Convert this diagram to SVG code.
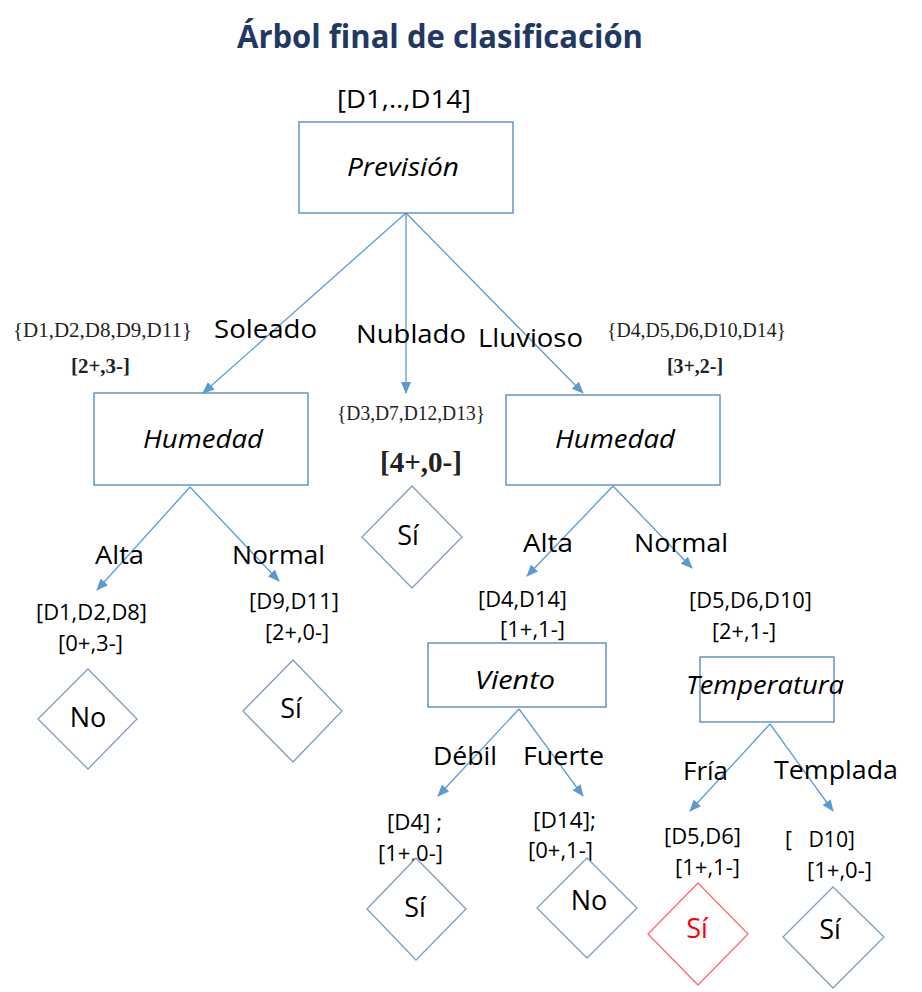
<svg xmlns="http://www.w3.org/2000/svg" width="922" height="992" viewBox="0 0 922 992">
<style>
.bg{fill:#ffffff}
.box{fill:#ffffff;stroke:#4F81BD;stroke-width:1.3}
.dia{fill:#ffffff;stroke:#7F9DC0;stroke-width:1.3}
.dia-red{fill:#ffffff;stroke:#FF6B6B;stroke-width:1.3}
.edge{fill:none;stroke:#5B9BD5;stroke-width:1.3;marker-end:url(#arr)}
.plain{fill:none;stroke:#5B9BD5;stroke-width:1.3}
.sans{font-family:"Open Sans","Liberation Sans",sans-serif;fill:#000000}
.lbl{font-size:26px}
.br{font-size:22px}
.it{font-size:26px;font-style:italic}
.leaf{font-size:27px}
.serif{font-family:"Liberation Serif","DejaVu Serif",serif;fill:#222222}
.title{font-family:"Open Sans","Liberation Sans",sans-serif;font-size:32px;font-weight:bold;fill:#1F3864}
</style>
<defs>
<marker id="arr" markerUnits="userSpaceOnUse" markerWidth="12" markerHeight="10" refX="11" refY="5" orient="auto" viewBox="0 0 12 10">
<path d="M0,0 L12,5 L0,10 z" fill="#5B9BD5"/>
</marker>
</defs>
<rect class="bg" x="0" y="0" width="922" height="992"/>
<text class="title" x="237" y="48" textLength="406" lengthAdjust="spacingAndGlyphs">Árbol final de clasificación</text>

<g id="connectors">
<line class="edge" x1="406" y1="213" x2="203" y2="393"/>
<line class="edge" x1="406" y1="213" x2="406" y2="393"/>
<line class="edge" x1="406" y1="213" x2="583" y2="393"/>
<line class="edge" x1="190" y1="487" x2="97" y2="590"/>
<line class="edge" x1="190" y1="487" x2="279" y2="581"/>
<line class="edge" x1="613" y1="486" x2="527" y2="576"/>
<line class="edge" x1="613" y1="486" x2="692" y2="568"/>
<line class="edge" x1="519" y1="709" x2="438" y2="796"/>
<line class="edge" x1="519" y1="709" x2="583" y2="796"/>
<line class="edge" x1="770" y1="724" x2="690" y2="811"/>
<line class="edge" x1="770" y1="724" x2="833" y2="811"/>
</g>

<g id="node-prevision">
<text class="sans br" x="337" y="108" style="font-size:26px" textLength="134" lengthAdjust="spacingAndGlyphs">[D1,..,D14]</text>
<rect class="box" x="299" y="122" width="214" height="91"/>
<text class="sans it" x="347" y="176" textLength="112" lengthAdjust="spacingAndGlyphs">Previsión</text>
</g>

<g id="edge-labels-1">
<text class="serif" x="13" y="337" font-size="21" textLength="179" lengthAdjust="spacingAndGlyphs">{D1,D2,D8,D9,D11}</text>
<text class="serif" x="71" y="373" font-size="21" font-weight="bold" textLength="59" lengthAdjust="spacingAndGlyphs">[2+,3-]</text>
<text class="sans lbl" x="214" y="338" textLength="103" lengthAdjust="spacingAndGlyphs">Soleado</text>
<text class="sans lbl" x="356" y="343" textLength="110" lengthAdjust="spacingAndGlyphs">Nublado</text>
<text class="sans lbl" x="478" y="347" textLength="105" lengthAdjust="spacingAndGlyphs">Lluvioso</text>
<text class="serif" x="607" y="337" font-size="21" textLength="179" lengthAdjust="spacingAndGlyphs">{D4,D5,D6,D10,D14}</text>
<text class="serif" x="667" y="373" font-size="21" font-weight="bold" textLength="56" lengthAdjust="spacingAndGlyphs">[3+,2-]</text>
<text class="serif" x="337" y="420" font-size="21" textLength="148" lengthAdjust="spacingAndGlyphs">{D3,D7,D12,D13}</text>
<text class="serif" x="380" y="472" font-size="30" font-weight="bold" textLength="82" lengthAdjust="spacingAndGlyphs">[4+,0-]</text>
</g>

<g id="node-humedad-left">
<rect class="box" x="94" y="393" width="214" height="92"/>
<text class="sans it" x="143" y="448" textLength="120" lengthAdjust="spacingAndGlyphs">Humedad</text>
</g>

<g id="node-humedad-right">
<rect class="box" x="506" y="395" width="214" height="90"/>
<text class="sans it" x="555" y="448" textLength="120" lengthAdjust="spacingAndGlyphs">Humedad</text>
</g>

<g id="node-si-nublado">
<polygon class="dia" points="412,486 462,537 412,588 362,537"/>
<text class="sans leaf" x="408" y="545" text-anchor="middle">Sí</text>
</g>

<g id="labels-humedad-left">
<text class="sans lbl" x="95" y="564" textLength="49" lengthAdjust="spacingAndGlyphs">Alta</text>
<text class="sans lbl" x="232" y="564" textLength="93" lengthAdjust="spacingAndGlyphs">Normal</text>
<text class="sans br" x="36" y="620" textLength="111" lengthAdjust="spacingAndGlyphs">[D1,D2,D8]</text>
<text class="sans br" x="58" y="651" textLength="65" lengthAdjust="spacingAndGlyphs">[0+,3-]</text>
<text class="sans br" x="249" y="609" textLength="90" lengthAdjust="spacingAndGlyphs">[D9,D11]</text>
<text class="sans br" x="265" y="640" textLength="64" lengthAdjust="spacingAndGlyphs">[2+,0-]</text>
</g>

<g id="node-no-alta">
<polygon class="dia" points="88,669 137,719 88,769 38,719"/>
<text class="sans leaf" x="88" y="727" text-anchor="middle">No</text>
</g>

<g id="node-si-normal">
<polygon class="dia" points="293,660 342,711 293,762 243,711"/>
<text class="sans leaf" x="291" y="718" text-anchor="middle">Sí</text>
</g>

<g id="labels-humedad-right">
<text class="sans lbl" x="523" y="552" textLength="50" lengthAdjust="spacingAndGlyphs">Alta</text>
<text class="sans lbl" x="634" y="552" textLength="94" lengthAdjust="spacingAndGlyphs">Normal</text>
<text class="sans br" x="478" y="607" textLength="89" lengthAdjust="spacingAndGlyphs">[D4,D14]</text>
<text class="sans br" x="500" y="637" textLength="65" lengthAdjust="spacingAndGlyphs">[1+,1-]</text>
<text class="sans br" x="689" y="608" textLength="123" lengthAdjust="spacingAndGlyphs">[D5,D6,D10]</text>
<text class="sans br" x="712" y="639" textLength="64" lengthAdjust="spacingAndGlyphs">[2+,1-]</text>
</g>

<g id="node-viento">
<rect class="box" x="428" y="643" width="178" height="64"/>
<text class="sans it" x="475" y="689" textLength="80" lengthAdjust="spacingAndGlyphs">Viento</text>
</g>

<g id="node-temperatura">
<rect class="box" x="700" y="657" width="134" height="65"/>
<text class="sans it" x="686" y="694" textLength="158" lengthAdjust="spacingAndGlyphs">Temperatura</text>
</g>

<g id="labels-viento">
<text class="sans lbl" x="433" y="765" textLength="64" lengthAdjust="spacingAndGlyphs">Débil</text>
<text class="sans lbl" x="523" y="765" textLength="81" lengthAdjust="spacingAndGlyphs">Fuerte</text>
<text class="sans br" x="387" y="830" xml:space="preserve" textLength="55" lengthAdjust="spacingAndGlyphs">[D4] ;</text>
<text class="sans br" x="378" y="861" textLength="65" lengthAdjust="spacingAndGlyphs">[1+,0-]</text>
<text class="sans br" x="533" y="828" textLength="63" lengthAdjust="spacingAndGlyphs">[D14];</text>
<text class="sans br" x="528" y="858" textLength="65" lengthAdjust="spacingAndGlyphs">[0+,1-]</text>
</g>

<g id="labels-temperatura">
<text class="sans lbl" x="683" y="780" textLength="45" lengthAdjust="spacingAndGlyphs">Fría</text>
<text class="sans lbl" x="774" y="779" textLength="124" lengthAdjust="spacingAndGlyphs">Templada</text>
<text class="sans br" x="664" y="844" textLength="77" lengthAdjust="spacingAndGlyphs">[D5,D6]</text>
<text class="sans br" x="675" y="875" textLength="65" lengthAdjust="spacingAndGlyphs">[1+,1-]</text>
<text class="sans br" x="785" y="847" xml:space="preserve" textLength="70" lengthAdjust="spacingAndGlyphs">[   D10]</text>
<text class="sans br" x="807" y="878" textLength="65" lengthAdjust="spacingAndGlyphs">[1+,0-]</text>
</g>

<g id="node-si-debil">
<polygon class="dia" points="416,858 466,909 416,960 367,909"/>
<text class="sans leaf" x="415" y="917" text-anchor="middle">Sí</text>
</g>

<g id="node-no-fuerte">
<polygon class="dia" points="587,858 637,908 587,958 537,908"/>
<text class="sans leaf" x="589" y="910" text-anchor="middle">No</text>
</g>

<g id="node-si-fria">
<polygon class="dia-red" points="698,883 748,934 698,985 648,934"/>
<text class="sans leaf" x="697" y="938" text-anchor="middle" style="fill:#FF0000">Sí</text>
</g>

<g id="node-si-templada">
<polygon class="dia" points="833,887 884,937 833,988 783,937"/>
<text class="sans leaf" x="830" y="939" text-anchor="middle">Sí</text>
</g>
</svg>
